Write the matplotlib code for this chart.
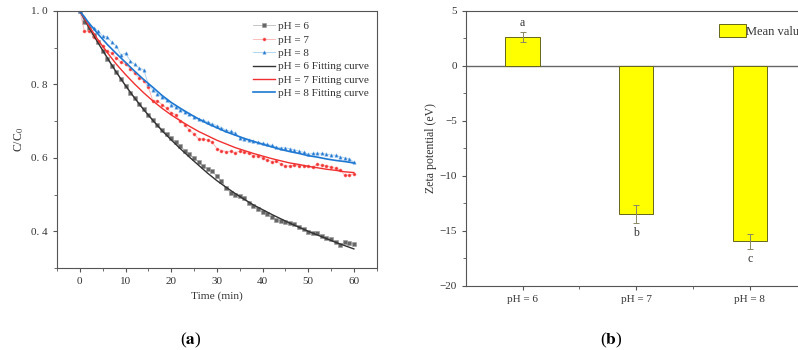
import numpy as np
import matplotlib
matplotlib.use('Agg')
import matplotlib.pyplot as plt
from matplotlib.ticker import MultipleLocator, FixedLocator

plt.rcParams['font.family'] = 'Liberation Serif'
plt.rcParams['mathtext.fontset'] = 'stix'

# ---- panel (a): C/C0 vs time ----
time = list(range(61))
ph6 = [1.000, 0.970, 0.955, 0.935, 0.915, 0.890, 0.870, 0.850, 0.835, 0.815,
       0.795, 0.778, 0.762, 0.748, 0.732, 0.718, 0.703, 0.690, 0.677, 0.665,
       0.653, 0.643, 0.632, 0.620, 0.610, 0.600, 0.588, 0.578, 0.570, 0.563,
       0.550, 0.538, 0.518, 0.505, 0.498, 0.497, 0.490, 0.478, 0.470, 0.462,
       0.452, 0.446, 0.438, 0.432, 0.428, 0.425, 0.422, 0.420, 0.412, 0.405,
       0.398, 0.394, 0.396, 0.388, 0.383, 0.378, 0.372, 0.364, 0.370, 0.368,
       0.366]
ph7 = [1.000, 0.945, 0.945, 0.930, 0.918, 0.905, 0.890, 0.885, 0.872, 0.860,
       0.855, 0.843, 0.830, 0.818, 0.810, 0.793, 0.755, 0.755, 0.745, 0.735,
       0.722, 0.718, 0.700, 0.690, 0.675, 0.665, 0.652, 0.652, 0.648, 0.643,
       0.625, 0.620, 0.617, 0.618, 0.614, 0.618, 0.615, 0.612, 0.606, 0.605,
       0.600, 0.595, 0.590, 0.592, 0.583, 0.578, 0.578, 0.580, 0.579, 0.579,
       0.577, 0.575, 0.582, 0.580, 0.579, 0.574, 0.572, 0.566, 0.553, 0.553,
       0.557]
ph8 = [1.000, 0.985, 0.965, 0.955, 0.945, 0.932, 0.930, 0.915, 0.905, 0.880,
       0.885, 0.865, 0.855, 0.845, 0.840, 0.800, 0.785, 0.775, 0.765, 0.757,
       0.745, 0.738, 0.730, 0.725, 0.720, 0.712, 0.706, 0.703, 0.698, 0.692,
       0.688, 0.682, 0.676, 0.672, 0.668, 0.655, 0.650, 0.648, 0.645, 0.642,
       0.640, 0.637, 0.634, 0.630, 0.628, 0.627, 0.625, 0.622, 0.618, 0.615,
       0.610, 0.612, 0.613, 0.612, 0.610, 0.608, 0.607, 0.603, 0.600, 0.598,
       0.588]

fit_time = list(range(0, 61, 2))
fit6 = [1.000, 0.955, 0.913, 0.873, 0.833, 0.797, 0.763, 0.731, 0.702, 0.674,
        0.649, 0.625, 0.602, 0.580, 0.558, 0.538, 0.520, 0.503, 0.487, 0.472,
        0.459, 0.446, 0.434, 0.422, 0.411, 0.400, 0.390, 0.380, 0.370, 0.361,
        0.352]
fit7 = [1.000, 0.959, 0.921, 0.887, 0.855, 0.827, 0.801, 0.777, 0.755, 0.735,
        0.717, 0.701, 0.686, 0.672, 0.660, 0.648, 0.638, 0.628, 0.620, 0.612,
        0.605, 0.598, 0.592, 0.586, 0.582, 0.577, 0.573, 0.569, 0.566, 0.562,
        0.560]
fit8 = [1.000, 0.967, 0.937, 0.909, 0.884, 0.860, 0.836, 0.813, 0.792, 0.770,
        0.751, 0.735, 0.720, 0.706, 0.693, 0.682, 0.671, 0.662, 0.653, 0.645,
        0.637, 0.630, 0.623, 0.617, 0.612, 0.606, 0.602, 0.597, 0.593, 0.590,
        0.586]

# ---- panel (b): zeta potential ----
groups = ['pH = 6', 'pH = 7', 'pH = 8']
zeta = [2.63, -13.5, -15.95]
zeta_err = [0.42, 0.8, 0.7]
letters = ['a', 'b', 'c']
letter_y = [3.9, -15.2, -17.6]

txt = '#333333'
fig = plt.figure(figsize=(7.98, 3.5), dpi=100)

ax1 = fig.add_axes([57 / 798, 1 - 268 / 350, (376.7 - 57) / 798, (268 - 11) / 350])
ax1.plot(time, ph6, color='#bbbbbb', lw=0.6, marker='s', ms=2.2,
         mfc='#666666', mec='#999999', mew=0.4, label='pH = 6')
ax1.plot(time, ph7, color='#ffb0b0', lw=0.6, marker='o', ms=2.2,
         mfc='#ee3333', mec='#ff7777', mew=0.4, label='pH = 7')
ax1.plot(time, ph8, color='#a8d0f0', lw=0.6, marker='^', ms=2.4,
         mfc='#2277d0', mec='#66a3e0', mew=0.4, label='pH = 8')
ax1.plot(fit_time, fit6, color='#333333', lw=1.0, label='pH = 6 Fitting curve')
ax1.plot(fit_time, fit7, color='#f03030', lw=1.0, label='pH = 7 Fitting curve')
ax1.plot(fit_time, fit8, color='#1e78d2', lw=1.2, label='pH = 8 Fitting curve')

ax1.set_xlim(-5, 65)
ax1.set_ylim(0.3, 1.0)
ax1.xaxis.set_major_locator(MultipleLocator(10))
ax1.xaxis.set_minor_locator(MultipleLocator(5))
ax1.yaxis.set_major_locator(FixedLocator([0.4, 0.6, 0.8, 1.0]))
ax1.yaxis.set_minor_locator(MultipleLocator(0.1))
ax1.set_yticklabels(['0. 4', '0. 6', '0. 8', '1. 0'])
ax1.set_xlabel('Time (min)', fontsize=8.2, color=txt, labelpad=4)
ax1.set_ylabel('C/C$_0$', fontsize=8.5, color=txt, labelpad=4)
ax1.legend(loc='upper right', bbox_to_anchor=(1.0, 0.99), frameon=False,
           fontsize=8, handlelength=2.0, handletextpad=0.25, labelspacing=0.33,
           borderaxespad=0.3, labelcolor=txt)

ax2 = fig.add_axes([465.7 / 798, 1 - 285.7 / 350, (806.5 - 465.7) / 798, (285.7 - 11) / 350])
x = np.arange(1, len(groups) + 1)
ax2.bar(x, zeta, width=0.3, color='#ffff00', edgecolor='#66661a', lw=0.7,
        label='Mean value', zorder=2)
ax2.errorbar(x, zeta, yerr=zeta_err, fmt='none', ecolor='#888866', elinewidth=0.7,
             capsize=2.5, capthick=0.7, zorder=3)
ax2.axhline(0, color='#666666', lw=1.0, zorder=1)
for xi, lt, ly in zip(x, letters, letter_y):
    ax2.text(xi, ly, lt, ha='center', va='center', fontsize=8.5, color=txt)
ax2.set_xlim(0.5, 3.5)
ax2.set_ylim(-20, 5)
ax2.set_xticks(x)
ax2.set_xticklabels(groups)
ax2.xaxis.set_minor_locator(FixedLocator([1.5, 2.5]))
ax2.yaxis.set_major_locator(MultipleLocator(5))
ax2.yaxis.set_minor_locator(MultipleLocator(2.5))
ax2.set_ylabel('Zeta potential (eV)', fontsize=8.5, color=txt, labelpad=2)
ax2.legend(loc='upper left', bbox_to_anchor=(0.73, 0.97), frameon=False,
           fontsize=9, handlelength=2.1, handleheight=1.2, handletextpad=0.05,
           borderaxespad=0.0, labelcolor=txt)

for ax in (ax1, ax2):
    for s in ax.spines.values():
        s.set_color('#555555')
        s.set_linewidth(0.8)
    ax.tick_params(which='both', direction='out', colors='#555555',
                   labelcolor=txt, labelsize=8, top=False, right=False)
    ax.tick_params(which='major', length=3)
    ax.tick_params(which='minor', length=2)

fig.text(191 / 798, 1 - 340 / 350, r'($\mathbf{a}$)', ha='center', va='center',
         fontsize=12.5, color='black')
fig.text(611 / 798, 1 - 340 / 350, r'($\mathbf{b}$)', ha='center', va='center',
         fontsize=12.5, color='black')

fig.savefig('out.png', dpi=100)
